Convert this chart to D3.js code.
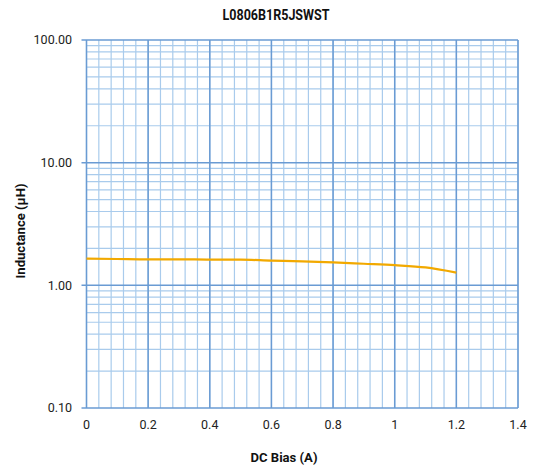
<!DOCTYPE html>
<html><head><meta charset="utf-8">
<script src="https://cdn.jsdelivr.net/npm/d3@7"></script>
<style>body{margin:0;background:#fff}svg{display:block}</style>
</head><body>
<div id="chart"></div>
<script>
const title = "L0806B1R5JSWST";
const xLabel = "DC Bias (A)";
const yLabel = "Inductance (\u03bcH)";
const biasA = [0, 0.1, 0.2, 0.3, 0.4, 0.5, 0.6, 0.7, 0.8, 0.9, 1.0, 1.1, 1.2];
const inductanceUH = [1.65, 1.64, 1.63, 1.63, 1.62, 1.62, 1.59, 1.57, 1.54, 1.50, 1.46, 1.40, 1.27];
const xTicks = [0, 0.2, 0.4, 0.6, 0.8, 1, 1.2, 1.4];
const xTickLabels = ["0", "0.2", "0.4", "0.6", "0.8", "1", "1.2", "1.4"];
const yTicks = [0.1, 1, 10, 100];
const yTickLabels = ["0.10", "1.00", "10.00", "100.00"];

const W = 538, H = 470;
const svg = d3.select("#chart").append("svg").attr("width", W).attr("height", H);
const x = d3.scaleLinear().domain([0, 1.4]).range([86.5, 518]);
const y = d3.scaleLog().domain([0.1, 100]).range([408, 40]);

const grid = svg.append("g");
// vertical minor lines every 0.04
const xMinor = d3.range(0, 36).map(i => +(i * 0.04).toFixed(2));
grid.selectAll("line.vmin").data(xMinor).enter().append("line")
  .attr("x1", d => x(d)).attr("x2", d => x(d)).attr("y1", y(100)).attr("y2", y(0.1))
  .attr("stroke", "#a9cbec").attr("stroke-width", 1.2);
// horizontal minor lines
const yMinor = [];
[0.1, 1, 10].forEach(dec => { for (let k = 2; k <= 9; k++) yMinor.push(dec * k); });
grid.selectAll("line.hmin").data(yMinor).enter().append("line")
  .attr("x1", x(0)).attr("x2", x(1.4)).attr("y1", d => y(d)).attr("y2", d => y(d))
  .attr("stroke", "#a9cbec").attr("stroke-width", 1.2);
// major vertical
grid.selectAll("line.vmaj").data(xTicks).enter().append("line")
  .attr("x1", d => x(d)).attr("x2", d => x(d)).attr("y1", y(100)).attr("y2", y(0.1))
  .attr("stroke", "#6a9bd3").attr("stroke-width", 1.5);
// major horizontal (with outward ticks)
grid.selectAll("line.hmaj").data(yTicks).enter().append("line")
  .attr("x1", x(0) - 5).attr("x2", x(1.4)).attr("y1", d => y(d)).attr("y2", d => y(d))
  .attr("stroke", "#6a9bd3").attr("stroke-width", 1.5);

// curve
const line = d3.line().x((d, i) => x(biasA[i])).y(d => y(d)).curve(d3.curveMonotoneX);
svg.append("path").datum(inductanceUH).attr("d", line)
  .attr("fill", "none").attr("stroke", "#f2a900").attr("stroke-width", 2.2);

// tick labels
svg.append("g").selectAll("text").data(yTicks).enter().append("text")
  .attr("x", 72).attr("y", d => y(d)).attr("dy", "0.35em").attr("text-anchor", "end")
  .attr("font-family", "Roboto, sans-serif").attr("font-size", 12.5).attr("fill", "#222")
  .text((d, i) => yTickLabels[i]);
svg.append("g").selectAll("text").data(xTicks).enter().append("text")
  .attr("x", d => x(d)).attr("y", 425).attr("dy", "0.35em").attr("text-anchor", "middle")
  .attr("font-family", "Roboto, sans-serif").attr("font-size", 12.5).attr("fill", "#222")
  .text((d, i) => xTickLabels[i]);

// titles
svg.append("text").attr("x", 276).attr("y", 20).attr("text-anchor", "middle")
  .attr("font-family", "Roboto, sans-serif").attr("font-weight", "bold").attr("font-size", 14)
  .attr("textLength", 107).attr("lengthAdjust", "spacingAndGlyphs").attr("fill", "#111")
  .text(title);
svg.append("text").attr("x", 284).attr("y", 462).attr("text-anchor", "middle")
  .attr("font-family", "Roboto, sans-serif").attr("font-weight", "bold").attr("font-size", 12.5)
  .attr("textLength", 67).attr("lengthAdjust", "spacingAndGlyphs").attr("fill", "#111")
  .text(xLabel);
svg.append("text").attr("transform", "translate(25,231) rotate(-90)").attr("text-anchor", "middle")
  .attr("font-family", "Roboto, sans-serif").attr("font-weight", "bold").attr("font-size", 12.5)
  .attr("textLength", 95).attr("lengthAdjust", "spacingAndGlyphs").attr("fill", "#111")
  .text(yLabel);
</script>
</body></html>
